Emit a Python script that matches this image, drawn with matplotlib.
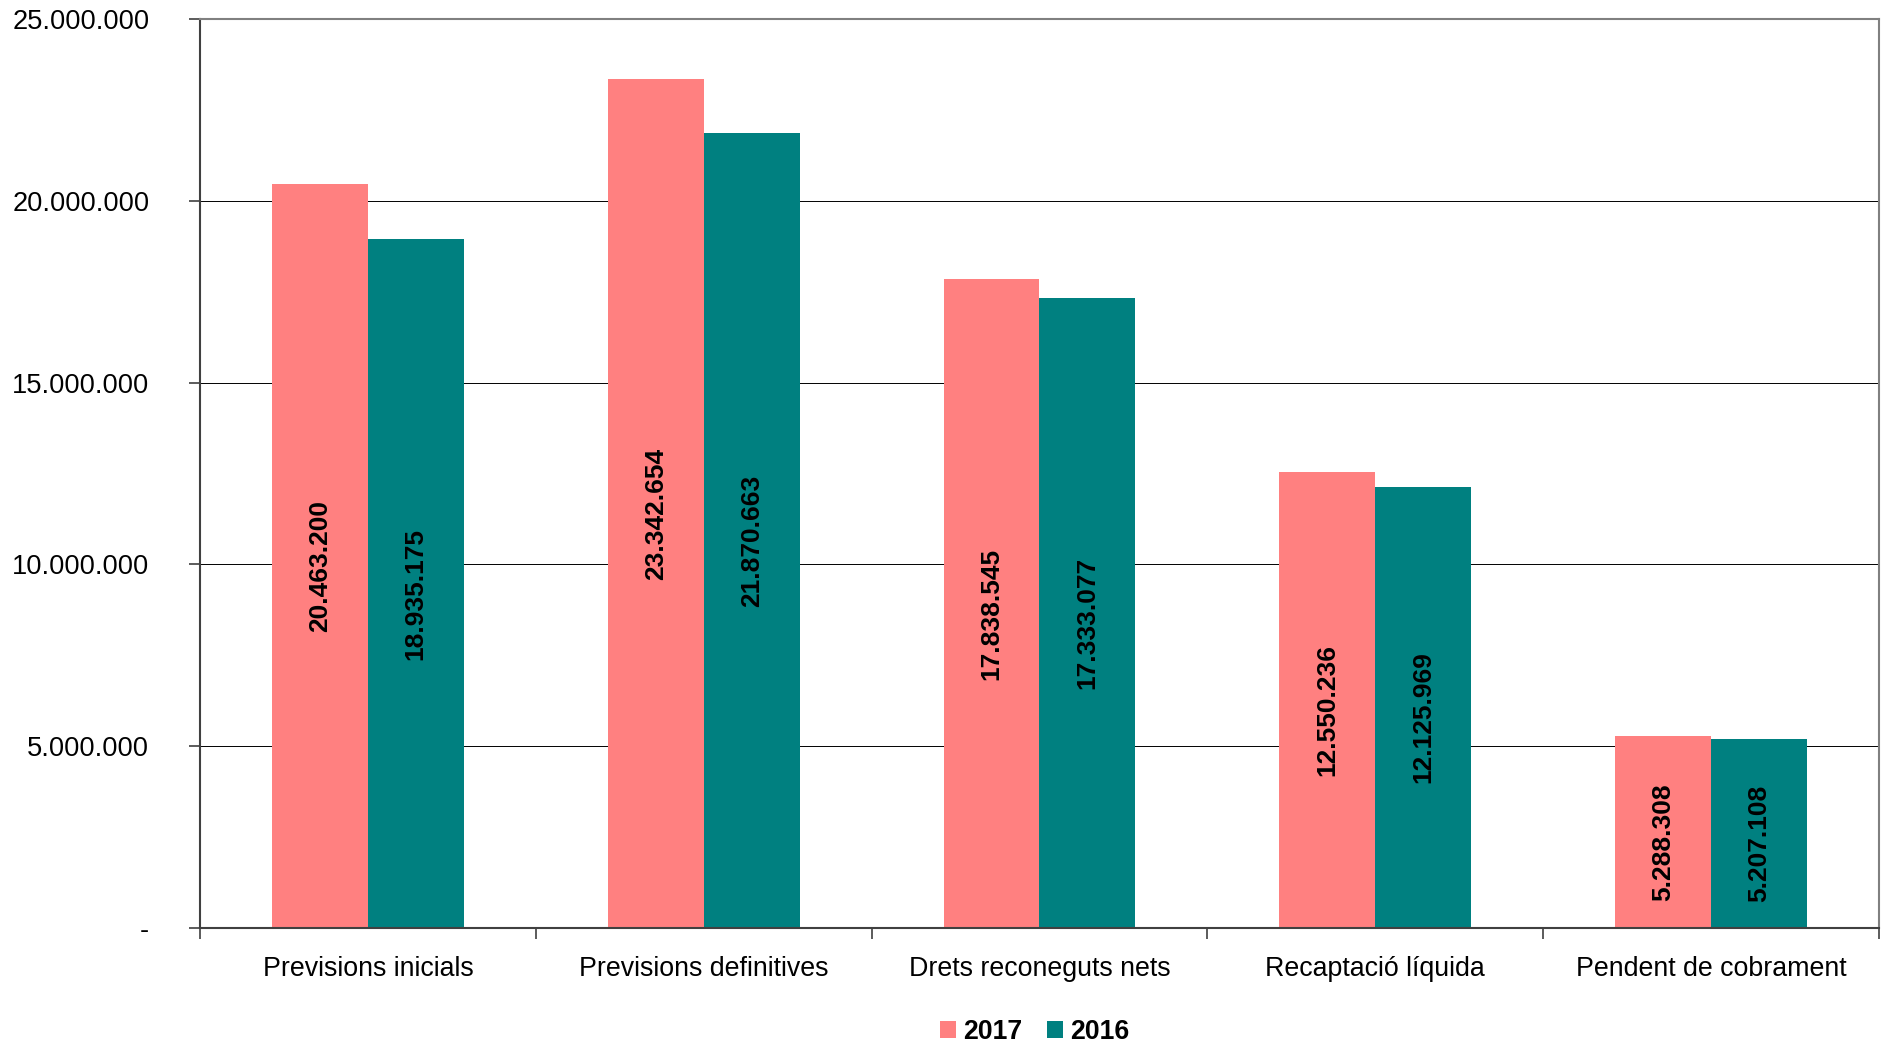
import numpy as np
import matplotlib.pyplot as plt
import matplotlib.transforms as mtransforms
from matplotlib.ticker import FuncFormatter
from matplotlib.patches import Patch

plt.rcParams['font.family'] = ['Liberation Sans', 'DejaVu Sans']

categories = ['Previsions inicials', 'Previsions definitives', 'Drets reconeguts nets',
              'Recaptació líquida', 'Pendent de cobrament']
values_2017 = [20463200, 23342654, 17838545, 12550236, 5288308]
values_2016 = [18935175, 21870663, 17333077, 12125969, 5207108]
series_names = ['2017', '2016']
colors = ['#FF8080', '#008080']


def fmt_num(v, pos=None):
    if v == 0:
        return '-'
    return f'{int(round(v)):,}'.replace(',', '.')


fig = plt.figure(figsize=(18.85, 10.48), dpi=100)
ax = fig.add_axes([0.1061, 0.1145, 0.8907, 0.8674])

x = np.arange(len(categories)) + 0.5
w = 1 / 3.5

bars_a = ax.bar(x - w / 2, values_2017, width=w, color=colors[0], zorder=2)
bars_b = ax.bar(x + w / 2, values_2016, width=w, color=colors[1], zorder=2)

# labels inside the bars, rotated, sitting a bit below the bar middle
shift = mtransforms.offset_copy(ax.transData, fig=fig, x=0, y=-10, units='dots')
for bars, vals in [(bars_a, values_2017), (bars_b, values_2016)]:
    for b, v in zip(bars, vals):
        ax.text(b.get_x() + b.get_width() / 2, v / 2, fmt_num(v), rotation=90, transform=shift,
                ha='center', va='center', fontsize=19, fontweight='bold', color='black', zorder=3)

ax.set_xlim(0, len(categories))
ax.set_ylim(0, 25000000)
ax.set_yticks(np.arange(0, 25000001, 5000000))
ax.yaxis.set_major_formatter(FuncFormatter(fmt_num))
ax.yaxis.grid(True, color='black', linewidth=0.7, zorder=0)

ax.set_xticks(np.arange(0, len(categories) + 1))
ax.set_xticklabels([])
ax.set_xticks(x, minor=True)
ax.set_xticklabels(categories, minor=True, fontsize=19.3)
ax.tick_params(axis='x', which='minor', length=0, pad=20)
ax.tick_params(axis='x', which='major', length=8, width=1.2, color='#404040')
ax.tick_params(axis='y', length=8, width=1.2, color='#404040', labelsize=19.6, pad=28.5)

ax.spines['top'].set_color('#808080')
ax.spines['top'].set_linewidth(1.5)
ax.spines['right'].set_color('#808080')
ax.spines['right'].set_linewidth(1.5)
ax.spines['left'].set_color('#404040')
ax.spines['left'].set_linewidth(1.5)
ax.spines['bottom'].set_color('#404040')
ax.spines['bottom'].set_linewidth(1.5)

handles = [Patch(facecolor=c, edgecolor='none') for c in colors]
leg = fig.legend(handles, series_names, loc='center', bbox_to_anchor=(0.549, 0.015),
                 ncol=2, frameon=False, prop={'size': 19.2, 'weight': 'bold'},
                 handlelength=0.6, handleheight=0.6, handletextpad=0.25, columnspacing=0.95)

fig.savefig('out.png', dpi=100, facecolor='white')
